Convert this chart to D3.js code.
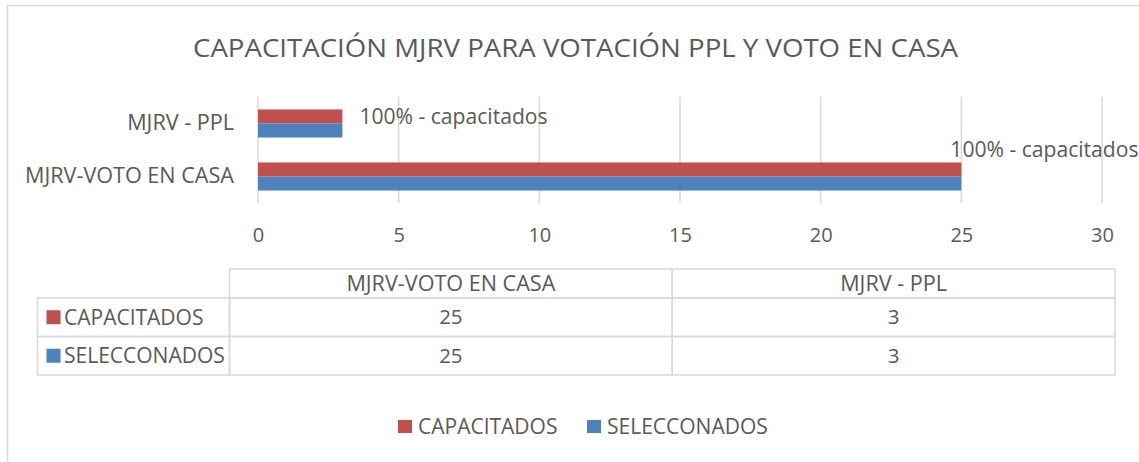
<!DOCTYPE html>
<html lang="es">
<head>
    <meta charset="UTF-8">
    <title>Capacitación MJRV</title>
    <script src="https://d3js.org/d3.v7.min.js"></script>
    <style>
        body { margin: 0; background: #fff; }
        svg text { font-family: "Open Sans", sans-serif; fill: #595959; }
    </style>
</head>
<body>
    <svg id="chart" width="1139" height="462"></svg>
    <script>
        // data
        const categories = ["MJRV-VOTO EN CASA", "MJRV - PPL"];
        const seriesNames = ["CAPACITADOS", "SELECCONADOS"];
        const capacitados = [25, 3];
        const selecconados = [25, 3];
        const dataLabels = ["100% - capacitados", "100% - capacitados"];
        const xTicks = [0, 5, 10, 15, 20, 25, 30];
        const title = "CAPACITACIÓN MJRV PARA VOTACIÓN PPL Y VOTO EN CASA";

        const colors = { CAPACITADOS: "#C0504D", SELECCONADOS: "#4F81BD" };
        const seriesValues = { CAPACITADOS: capacitados, SELECCONADOS: selecconados };
        const gridColor = "#D9D9D9";

        const svg = d3.select("#chart");

        // outer chart border (runs past the window on the right and bottom)
        svg.append("rect")
            .attr("x", 7.5).attr("y", 5.5)
            .attr("width", 1145).attr("height", 470)
            .attr("fill", "none")
            .attr("stroke", gridColor)
            .attr("stroke-width", 1.5);

        svg.append("text")
            .attr("x", 575.5).attr("y", 57)
            .attr("text-anchor", "middle")
            .attr("textLength", 765)
            .attr("lengthAdjust", "spacingAndGlyphs")
            .style("font-size", "26px")
            .text(title);

        // plot area
        const plot = { left: 258, right: 1102, top: 97, bottom: 203 };

        const x = d3.scaleLinear()
            .domain([0, 30])
            .range([plot.left, plot.right]);

        // Excel draws the first category at the bottom
        const y = d3.scaleBand()
            .domain(categories.slice().reverse())
            .range([plot.top, plot.bottom])
            .paddingInner(0.47)
            .paddingOuter(0.235);

        const ySub = d3.scaleBand()
            .domain(seriesNames)
            .range([0, y.bandwidth()]);

        // gridlines
        svg.append("g")
            .selectAll("line")
            .data(xTicks)
            .join("line")
            .attr("x1", d => x(d)).attr("x2", d => x(d))
            .attr("y1", plot.top).attr("y2", plot.bottom)
            .attr("stroke", gridColor)
            .attr("stroke-width", 1.5);

        // x axis labels
        const xAxis = svg.append("g")
            .attr("transform", `translate(0,${plot.bottom})`)
            .call(d3.axisBottom(x).tickValues(xTicks).tickSize(0).tickPadding(25));
        xAxis.select(".domain").remove();
        xAxis.selectAll("text")
            .style("font-size", "20px")
            .style("font-family", "'Open Sans', sans-serif")
            .attr("fill", "#595959");

        // y axis labels
        const yAxis = svg.append("g")
            .attr("transform", `translate(${plot.left},0)`)
            .call(d3.axisLeft(y).tickSize(0).tickPadding(24));
        yAxis.select(".domain").remove();
        yAxis.selectAll("text")
            .style("font-size", "21.6px")
            .style("font-family", "'Open Sans', sans-serif")
            .attr("fill", "#595959");

        // bars
        seriesNames.forEach(s => {
            svg.append("g")
                .selectAll("rect")
                .data(categories.map((c, i) => ({ c, v: seriesValues[s][i] })))
                .join("rect")
                .attr("x", x(0))
                .attr("y", d => y(d.c) + ySub(s))
                .attr("width", d => x(d.v) - x(0))
                .attr("height", ySub.bandwidth())
                .attr("fill", colors[s]);
        });

        // data labels on the CAPACITADOS bars (the long one was moved above its bar)
        const labelShift = [{ dx: -11, dy: -20 }, { dx: 17, dy: 0 }];
        svg.append("g")
            .selectAll("text")
            .data(categories.map((c, i) => ({ c, v: capacitados[i], t: dataLabels[i], s: labelShift[i] })))
            .join("text")
            .attr("x", d => x(d.v) + d.s.dx)
            .attr("y", d => y(d.c) + ySub("CAPACITADOS") + ySub.bandwidth() / 2 + d.s.dy)
            .attr("dy", "0.35em")
            .style("font-size", "21.1px")
            .text(d => d.t);

        // data table
        const table = { left: 37.5, labelRight: 229.5, right: 1115, top: 269, headerBottom: 298, rowH: 38.5 };
        const colX = d3.scaleBand()
            .domain(categories)
            .range([table.labelRight, table.right]);
        const rowY = d3.scaleBand()
            .domain(seriesNames)
            .range([table.headerBottom, table.headerBottom + table.rowH * seriesNames.length]);

        const tg = svg.append("g")
            .attr("stroke", gridColor)
            .attr("stroke-width", 1.5)
            .attr("fill", "none");

        // header cells
        categories.forEach(c => {
            tg.append("rect")
                .attr("x", colX(c)).attr("y", table.top)
                .attr("width", colX.bandwidth()).attr("height", table.headerBottom - table.top);
        });
        // row label cells and value cells
        seriesNames.forEach(s => {
            tg.append("rect")
                .attr("x", table.left).attr("y", rowY(s))
                .attr("width", table.labelRight - table.left).attr("height", rowY.bandwidth());
            categories.forEach(c => {
                tg.append("rect")
                    .attr("x", colX(c)).attr("y", rowY(s))
                    .attr("width", colX.bandwidth()).attr("height", rowY.bandwidth());
            });
        });

        svg.append("g")
            .selectAll("text")
            .data(categories)
            .join("text")
            .attr("x", d => colX(d) + colX.bandwidth() / 2)
            .attr("y", (table.top + table.headerBottom) / 2)
            .attr("dy", "0.35em")
            .attr("text-anchor", "middle")
            .style("font-size", "21.6px")
            .text(d => d);

        seriesNames.forEach(s => {
            const cy = rowY(s) + rowY.bandwidth() / 2;
            svg.append("rect")
                .attr("x", 46.5).attr("y", cy - 7)
                .attr("width", 14).attr("height", 14)
                .attr("fill", colors[s]);
            svg.append("text")
                .attr("x", 64).attr("y", cy)
                .attr("dy", "0.35em")
                .style("font-size", "21px")
                .text(s);
            svg.append("g")
                .selectAll("text")
                .data(categories.map((c, i) => ({ c, v: seriesValues[s][i] })))
                .join("text")
                .attr("x", d => colX(d.c) + colX.bandwidth() / 2)
                .attr("y", cy)
                .attr("dy", "0.35em")
                .attr("text-anchor", "middle")
                .style("font-size", "20.5px")
                .text(d => d.v);
        });

        // legend
        const legendX = { CAPACITADOS: 398, SELECCONADOS: 587 };
        const legendY = 427;
        seriesNames.forEach(s => {
            svg.append("rect")
                .attr("x", legendX[s]).attr("y", legendY - 7)
                .attr("width", 14).attr("height", 13)
                .attr("fill", colors[s]);
            svg.append("text")
                .attr("x", legendX[s] + 20).attr("y", legendY)
                .attr("dy", "0.35em")
                .style("font-size", "21px")
                .text(s);
        });
    </script>
</body>
</html>
